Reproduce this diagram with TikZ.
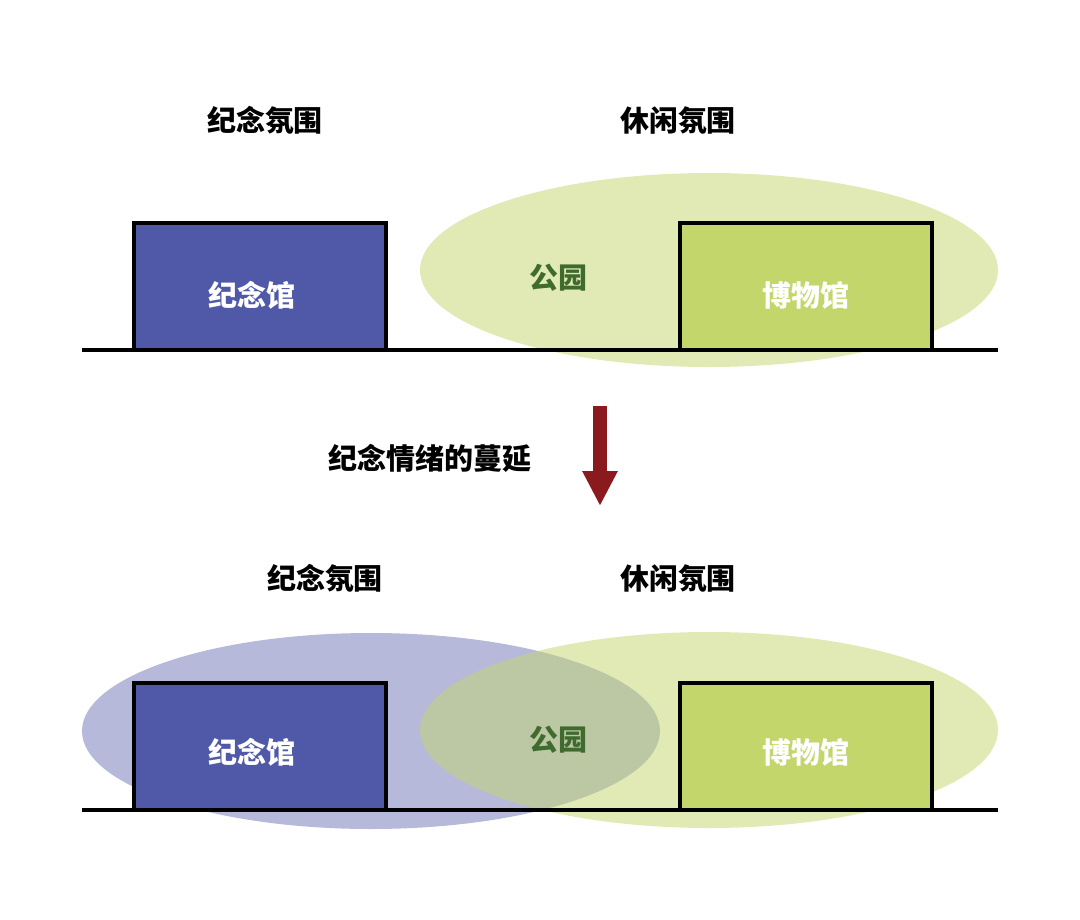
\documentclass[tikz,border=0pt]{standalone}
\usepackage{fontspec}
\newfontfamily\cjk{Noto Sans CJK SC}[BoldFont={Noto Sans CJK SC Black}]
\usetikzlibrary{arrows.meta}
\definecolor{mblue}{RGB}{80,89,168}
\definecolor{mgreen}{RGB}{195,214,108}
\definecolor{pgreen}{RGB}{63,107,47}
\definecolor{mred}{RGB}{139,26,30}
\tikzset{
  lbl/.style={font=\cjk\bfseries\fontsize{16.5}{18}\selectfont, inner sep=0pt},
  building/.style={draw=black, line width=2.3pt, minimum width=5.04cm, minimum height=2.54cm, inner sep=0pt},
  ground/.style={line width=2.3pt},
}
\begin{document}
\begin{tikzpicture}[x=0.02cm,y=-0.02cm]
\useasboundingbox (0,0) rectangle (1080,920);
% ---------- top ----------
\fill[mgreen, opacity=0.5] (709,270) ellipse [x radius=289, y radius=97];
\coordinate (g1l) at (82,350);
\coordinate (g1r) at (998,350);
\draw[ground] (g1l) -- (g1r);
\node[building, fill=mblue] (m1) at (260,286.5) {};
\node[building, fill=mgreen] (b1) at (806,286.5) {};
\node[lbl, white] (m1t) at (252,295) {纪念馆};
\node[lbl, white] (b1t) at (806,295) {博物馆};
\node[lbl, pgreen] (p1) at (558,278) {公园};
\node[lbl] (t1) at (265,120) {纪念氛围};
\node[lbl] (t2) at (678,120) {休闲氛围};
% ---------- arrow ----------
\node[lbl] (sp) at (430,458) {纪念情绪的蔓延};
\coordinate (a1) at (600,406);
\coordinate (a2) at (600,506);
\draw[mred, line width=0.28cm, -{Triangle[width=0.66cm,length=0.7cm]}] (a1) -- (a2);
% ---------- bottom ----------
\fill[mblue, opacity=0.42] (371,731) ellipse [x radius=289, y radius=98];
\fill[mgreen, opacity=0.5] (709,730) ellipse [x radius=289, y radius=98];
\coordinate (g2l) at (82,810);
\coordinate (g2r) at (998,810);
\draw[ground] (g2l) -- (g2r);
\node[building, fill=mblue] (m2) at (260,746.5) {};
\node[building, fill=mgreen] (b2) at (806,746.5) {};
\node[lbl, white] (m2t) at (252,752) {纪念馆};
\node[lbl, white] (b2t) at (806,752) {博物馆};
\node[lbl, pgreen] (p2) at (558,740) {公园};
\node[lbl] (t3) at (325,578) {纪念氛围};
\node[lbl] (t4) at (678,578) {休闲氛围};
\end{tikzpicture}
\end{document}
